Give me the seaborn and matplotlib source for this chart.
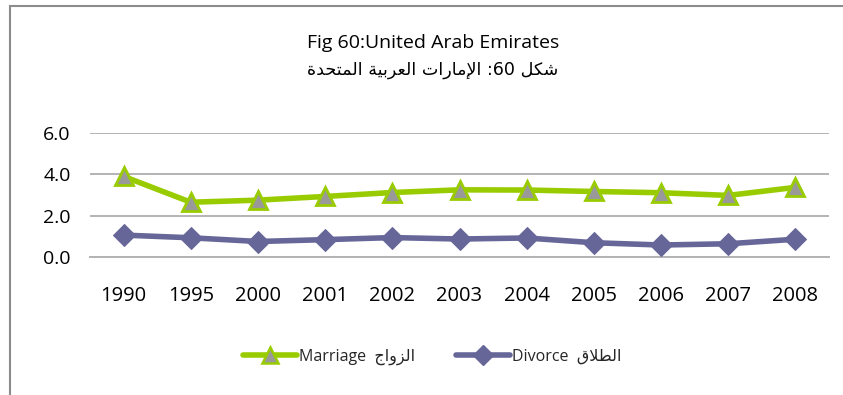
import matplotlib
matplotlib.use("Agg")
import matplotlib.pyplot as plt
from matplotlib.patches import Rectangle
from matplotlib.lines import Line2D
import seaborn as sns
import pandas as pd

# ---- data -----------------------------------------------------------------
years = ["1990", "1995", "2000", "2001", "2002", "2003", "2004", "2005", "2006", "2007", "2008"]
marriage = [3.9, 2.65, 2.75, 2.93, 3.12, 3.25, 3.24, 3.17, 3.11, 2.98, 3.37]
divorce = [1.06, 0.93, 0.75, 0.84, 0.94, 0.87, 0.92, 0.69, 0.58, 0.64, 0.86]
y_ticks = [0.0, 2.0, 4.0, 6.0]

title_en = "Fig 60:United Arab Emirates"
# right-to-left line, words listed in reading order
title_ar_words = ["شكل", "60", ":", "الإمارات", "العربية", "المتحدة"]
marriage_en, marriage_ar = "Marriage", "الزواج"
divorce_en, divorce_ar = "Divorce", "الطلاق"

# ---- Arabic shaping (presentation forms, visual order) ---------------------
# letter: (isolated, final, initial, medial); initial/medial None = right-joining
FORMS = {
    "ا": ("\uFE8D", "\uFE8E", None, None),
    "إ": ("\uFE87", "\uFE88", None, None),
    "ب": ("\uFE8F", "\uFE90", "\uFE91", "\uFE92"),
    "ة": ("\uFE93", "\uFE94", None, None),
    "ت": ("\uFE95", "\uFE96", "\uFE97", "\uFE98"),
    "ج": ("\uFE9D", "\uFE9E", "\uFE9F", "\uFEA0"),
    "ح": ("\uFEA1", "\uFEA2", "\uFEA3", "\uFEA4"),
    "د": ("\uFEA9", "\uFEAA", None, None),
    "ر": ("\uFEAD", "\uFEAE", None, None),
    "ز": ("\uFEAF", "\uFEB0", None, None),
    "ش": ("\uFEB5", "\uFEB6", "\uFEB7", "\uFEB8"),
    "ط": ("\uFEC1", "\uFEC2", "\uFEC3", "\uFEC4"),
    "ع": ("\uFEC9", "\uFECA", "\uFECB", "\uFECC"),
    "ق": ("\uFED5", "\uFED6", "\uFED7", "\uFED8"),
    "ك": ("\uFED9", "\uFEDA", "\uFEDB", "\uFEDC"),
    "ل": ("\uFEDD", "\uFEDE", "\uFEDF", "\uFEE0"),
    "م": ("\uFEE1", "\uFEE2", "\uFEE3", "\uFEE4"),
    "و": ("\uFEED", "\uFEEE", None, None),
    "ي": ("\uFEF1", "\uFEF2", "\uFEF3", "\uFEF4"),
}
LAM_ALEF = {"ا": ("\uFEFB", "\uFEFC", None, None),
            "إ": ("\uFEF9", "\uFEFA", None, None)}


def ar(word):
    """Shape one Arabic word and return its glyphs in left-to-right order."""
    if not any(c in FORMS for c in word):
        return word
    toks, i = [], 0
    while i < len(word):
        c = word[i]
        if c == "ل" and i + 1 < len(word) and word[i + 1] in LAM_ALEF:
            toks.append(LAM_ALEF[word[i + 1]])
            i += 2
        else:
            toks.append(FORMS.get(c, c))
            i += 1
    out = []
    for k, t in enumerate(toks):
        if isinstance(t, str):
            out.append(t)
            continue
        prev = k > 0 and not isinstance(toks[k - 1], str) and toks[k - 1][2] is not None
        nxt = t[2] is not None and k + 1 < len(toks) and not isinstance(toks[k + 1], str)
        if prev and nxt:
            out.append(t[3])
        elif prev:
            out.append(t[1])
        elif nxt:
            out.append(t[2])
        else:
            out.append(t[0])
    return "".join(reversed(out))


def ar_line(words):
    """Lay out a right-to-left line; a colon sits on the left of the number before it."""
    vis, pending = [], ""
    for w in reversed(words):
        if w == ":":
            pending = ":"
        else:
            vis.append(pending + ar(w))
            pending = ""
    return " ".join(vis)


title_ar = ar_line(title_ar_words)

# ---- figure ----------------------------------------------------------------
sns.set_theme(style="white")
FONT = ["Open Sans", "DejaVu Sans"]
plt.rcParams["font.family"] = FONT

W, H = 843, 395
fig = plt.figure(figsize=(W / 100, H / 100), dpi=100)
fig.patch.set_facecolor("white")

# chart frame (left and top edges visible)
fig.add_artist(Rectangle((9.5 / W, -0.2), 2.0, 1.2 - 5.5 / H,
                         transform=fig.transFigure, fill=False,
                         edgecolor="#8c8c8c", linewidth=1.5))

ax = fig.add_axes([90 / W, (H - 257) / H, (829 - 90) / W, (257 - 133) / H])

df = pd.DataFrame({"year": years, "Marriage": marriage, "Divorce": divorce})

GREEN = "#99CC00"
PURPLE = "#666699"

sns.lineplot(data=df, x="year", y="Marriage", ax=ax, sort=False,
             color=GREEN, linewidth=4, marker="^", markersize=13,
             markerfacecolor="#999999", markeredgecolor=GREEN,
             markeredgewidth=2.0, zorder=3)
sns.lineplot(data=df, x="year", y="Divorce", ax=ax, sort=False,
             color=PURPLE, linewidth=4, marker="D", markersize=11,
             markerfacecolor=PURPLE, markeredgecolor=PURPLE, zorder=3)

ax.set_xlim(-0.5, len(years) - 0.5)
ax.set_ylim(0, 6)
ax.set_yticks(y_ticks)
ax.set_yticklabels([f"{v:.1f}" for v in y_ticks])
ax.set_xlabel("")
ax.set_ylabel("")
ax.grid(axis="y", color="#b3b3b3", linewidth=1.4)
ax.grid(axis="x", visible=False)
for s in ["left", "right", "top"]:
    ax.spines[s].set_visible(False)
ax.spines["bottom"].set_color("#b3b3b3")
ax.spines["bottom"].set_linewidth(1.4)
ax.tick_params(axis="y", length=0, pad=14, labelsize=14, colors="black")
ax.tick_params(axis="x", length=0, pad=21, labelsize=14.5, colors="black")
ax.set_facecolor("white")

# titles
fig.text(433 / W, 1 - 43 / H, title_en, ha="center", va="center",
         fontsize=14, family=FONT, color="black")
fig.text(433 / W, 1 - 70 / H, title_ar, ha="center", va="center",
         fontsize=12.6, family=["DejaVu Sans"], color="black")

# legend
handles = [
    Line2D([], [], color=GREEN, linewidth=4, marker="^", markersize=11,
           markerfacecolor="#999999", markeredgecolor=GREEN, markeredgewidth=1.8),
    Line2D([], [], color=PURPLE, linewidth=4, marker="D", markersize=10,
           markerfacecolor=PURPLE, markeredgecolor=PURPLE),
]
labels = [f"{marriage_en}  {ar(marriage_ar)}", f"{divorce_en}  {ar(divorce_ar)}"]
fig.legend(handles, labels, loc="center", bbox_to_anchor=(432 / W, 1 - 357 / H),
           ncol=2, frameon=False, handlelength=3.4, handletextpad=0.1,
           columnspacing=2.6, prop={"family": FONT, "size": 11.5})

fig.savefig("out.png", dpi=100, facecolor="white")
